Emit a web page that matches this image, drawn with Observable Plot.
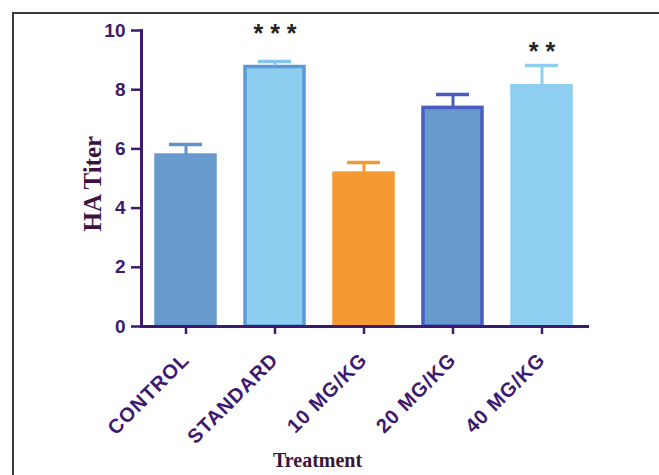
<!DOCTYPE html>
<html>
<head>
<meta charset="utf-8">
<script src="https://cdn.jsdelivr.net/npm/d3@7"></script>
<script src="https://cdn.jsdelivr.net/npm/@observablehq/plot@0.6"></script>
<style>
  html, body { margin: 0; padding: 0; background: #fff; }
  #wrap { position: relative; width: 659px; height: 475px; overflow: hidden; background: #fff; }
  #border { position: absolute; left: 12px; top: 12px; width: 700px; height: 520px; border-left: 2px solid #3a3a3a; border-top: 2px solid #3a3a3a; box-sizing: border-box; }
  #chart { position: absolute; left: 0; top: 0; }
  .xt text { letter-spacing: 1px; }
</style>
</head>
<body>
<div id="wrap"><div id="border"></div><div id="chart"></div></div>
<script>
const categories = ["CONTROL", "STANDARD", "10 MG/KG", "20 MG/KG", "40 MG/KG"];
const means = [5.81, 8.8, 5.2, 7.42, 8.15];
const errors = [0.34, 0.15, 0.34, 0.42, 0.67];
const fills = ["#6699cc", "#8dcdf0", "#f59a33", "#6699cc", "#8ecef0"];
const strokes = ["#6699cc", "#5c9ad6", "#f59a33", "#4a5cbf", "#8ecef0"];
const capColors = ["#5f92cc", "#86c6ec", "#f39a35", "#4a5cbf", "#8ecef0"];
const stars = ["", "* * *", "", "", "* *"];
const yTicks = [0, 2, 4, 6, 8, 10];

const data = categories.map((c, i) => ({
  cat: c, mean: means[i], top: means[i] + errors[i],
  fill: fills[i], stroke: strokes[i], cap: capColors[i], star: stars[i]
}));

const purple = "#3d1a6e";

const chart = Plot.plot({
  width: 659,
  height: 475,
  marginLeft: 141,
  marginRight: 72,
  marginTop: 30,
  marginBottom: 149,
  style: { background: "transparent", overflow: "visible" },
  x: { domain: categories, paddingInner: 0.29, paddingOuter: 0.123, label: null },
  y: { domain: [0, 10], label: null },
  marks: [
    Plot.barY(data, { x: "cat", y: "mean", fill: "fill", stroke: "stroke", strokeWidth: 3.5, insetLeft: 2, insetRight: 2, insetTop: 1 }),
    Plot.ruleX(data, { x: "cat", y1: "mean", y2: "top", stroke: "cap", strokeWidth: 3 }),
    Plot.tickY(data, { x: "cat", y: "top", stroke: "cap", strokeWidth: 3.5, insetLeft: 15, insetRight: 15 }),
    Plot.text(data.filter(d => d.star === "* * *"), { x: "cat", y: "top", text: "star", dy: -28, fontSize: 25, fontWeight: "bold", fill: "#222", fontFamily: "Liberation Sans, Arial, sans-serif" }),
    Plot.text(data.filter(d => d.star === "* *"), { x: "cat", y: "top", text: "star", dy: -13, fontSize: 25, fontWeight: "bold", fill: "#222", fontFamily: "Liberation Sans, Arial, sans-serif" }),
    Plot.frame({ anchor: "left", stroke: purple, strokeWidth: 3 }),
    Plot.frame({ anchor: "bottom", stroke: purple, strokeWidth: 3 }),
    Plot.axisY({ ticks: yTicks, tickSize: 10, tickPadding: 6, stroke: purple, strokeWidth: 2.5, fill: purple, fontSize: 19, fontWeight: "bold", fontFamily: "Liberation Sans, Arial, sans-serif", label: null }),
    Plot.axisX({ tickSize: 8, tickPadding: 22, tickRotate: -45, stroke: purple, strokeWidth: 2.5, fill: purple, fontSize: 20, fontWeight: "bold", fontFamily: "Liberation Sans, Arial, sans-serif", label: null, className: "xt" }),
    Plot.text(["HA Titer"], { frameAnchor: "left", dx: -49, dy: 53, rotate: -90, fontSize: 25, fontWeight: "bold", fontFamily: "Liberation Serif, Times New Roman, serif", fill: "#3d1240" }),
    Plot.text(["Treatment"], { frameAnchor: "bottom", dy: 140, dx: -47, fontSize: 20, fontWeight: "bold", fontFamily: "Liberation Serif, Times New Roman, serif", fill: "#3a1438" })
  ]
});
document.getElementById("chart").appendChild(chart);
</script>
</body>
</html>
